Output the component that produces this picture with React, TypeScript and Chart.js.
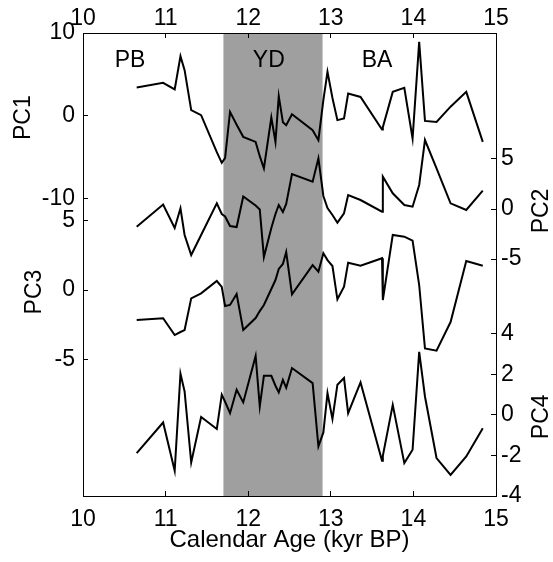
import React, { useEffect, useRef } from "react";
import { Chart, registerables } from "chart.js";

Chart.register(...registerables);

// ---- data ----
const ages = [
  10.65, 10.97, 11.11, 11.18, 11.23, 11.31, 11.43, 11.62, 11.68, 11.72,
  11.78, 11.86, 11.94, 12.09, 12.14, 12.19, 12.28, 12.33, 12.37, 12.42,
  12.46, 12.53, 12.78, 12.85, 12.91, 12.96, 13.02, 13.08, 13.16, 13.21,
  13.36, 13.62, 13.63, 13.75, 13.89, 13.99, 14.07, 14.14, 14.28, 14.45,
  14.64, 14.84,
];
const pc1 = [
  3.41, 3.97, 3.17, 7.19, 5.5, 0.67, 0.06, -4.41, -5.7, -5.14,
  0.46, -1.09, -2.56, -3.17, -4.9, -6.38, -0.22, -3.17, 2.36, -0.79,
  -1.15, 0.18, -1.75, -2.96, 1.87, 5.3, 2.14, -0.54, -0.34, 2.68,
  2.27, -1.67, -1.39, 2.88, 3.36, -2.76, 8.92, -0.63, -0.75, 1.09,
  2.88, -3.17,
];
const pc2 = [
  -1.77, 0.45, -1.9, 0.07, -2.6, -4.6, -2.6, 0.57, -0.5, -0.75,
  -1.7, -1.8, 1.25, 0.35, -0.05, -4.8, -1.9, -0.5, 0.4, -0.3,
  0.5, 3.5, 2.73, 5.07, 1.3, 0.1, -0.6, -1.37, -0.43, 1.4,
  0.9, -0.27, 3.23, 1.57, 0.4, 0.23, 2.4, 6.9, 4.07, 0.57,
  -0.1, 1.83,
];
const pc3 = [
  -2.16, -2.04, -3.25, -3.03, -2.89, -0.6, -0.24, 0.65, 0.22, -1.15,
  -1.08, -0.29, -2.89, -2.02, -1.52, -1.08, 0.07, 0.72, 1.52, 1.88,
  2.74, -0.31, 1.8, 1.32, 2.65, 2.16, 1.73, -0.67, 0.24, 1.97,
  1.75, 2.29, -0.72, 3.97, 3.85, 3.56, 0.36, -4.21, -4.38, -2.31,
  2.09, 1.75,
];
const pc4 = [
  -1.89, -0.38, -2.76, 2.02, 1.15, -2.35, -0.11, -0.7, 0.99, 0.64,
  0.08, 1.23, 0.61, 2.9, 0.41, 1.92, 1.92, 1.43, 1.1, 1.72,
  1.33, 2.3, 1.56, -1.56, -0.87, 1.07, -0.21, 1.48, 1.81, 0.08,
  1.59, -2.27, -2.02, 0.49, -2.38, -1.72, 3.1, 0.9, -2.13, -2.96,
  -2.05, -0.66,
];

const xTicks = [10, 11, 12, 13, 14, 15];
const pc1Ticks = [10, 0, -10];
const pc2Ticks = [5, 0, -5];
const pc3Ticks = [5, 0, -5];
const pc4Ticks = [4, 2, 0, -2, -4];

const pc1Range = [-46, 10];
const pc2Range = [-28.7, 17.6];
const pc3Range = [-14.86, 18.54];
const pc4Range = [-4, 18.8];
const xRange = [10, 15];

const ydBand = [11.7, 12.9];
const periodLabels = ["PB", "YD", "BA"];
const periodAges = [10.57, 12.25, 13.56];

const xTitle = "Calendar Age (kyr BP)";

const FONT = "'Liberation Sans', Arial, Helvetica, sans-serif";

const yTitles = [
  { axis: "yPC1", text: "PC1", x: 24 },
  { axis: "yPC3", text: "PC3", x: 35 },
  { axis: "yPC2", text: "PC2", x: 542 },
  { axis: "yPC4", text: "PC4", x: 542 },
];
const yAxisIds = ["yPC1", "yPC2", "yPC3", "yPC4"];

// Overlaid y axes: stacked for placement, then stretched back to the full plot height.
const fullHeightPlugin = {
  id: "fullHeightY",
  afterLayout(chart: any) {
    const { chartArea } = chart;
    yAxisIds.forEach((id) => {
      const s = chart.scales[id];
      s.top = chartArea.top;
      s.bottom = chartArea.bottom;
      s.height = chartArea.bottom - chartArea.top;
      s.configure();
    });
  },
};

const bandPlugin = {
  id: "ydBand",
  beforeDraw(chart: any) {
    const { ctx, chartArea, scales } = chart;
    const x1 = scales.x.getPixelForValue(ydBand[0]);
    const x2 = scales.x.getPixelForValue(ydBand[1]);
    ctx.save();
    ctx.fillStyle = "#9f9f9f";
    ctx.fillRect(x1, chartArea.top, x2 - x1, chartArea.bottom - chartArea.top);
    ctx.restore();
  },
};

const textPlugin = {
  id: "textOverlay",
  afterDraw(chart: any) {
    const { ctx, chartArea, scales } = chart;
    ctx.save();
    ctx.fillStyle = "#000";
    ctx.font = `23px ${FONT}`;
    ctx.textAlign = "center";
    ctx.textBaseline = "middle";
    periodLabels.forEach((t, i) => {
      ctx.fillText(t, scales.x.getPixelForValue(periodAges[i]), chartArea.top + 28);
    });
    yTitles.forEach(({ axis, text, x }) => {
      const y = scales[axis].getPixelForValue(0) + 2;
      ctx.save();
      ctx.translate(x, y);
      ctx.rotate(-Math.PI / 2);
      ctx.fillText(text, 0, 0);
      ctx.restore();
    });
    ctx.restore();
  },
};

const tickFont = { family: FONT, size: 23 };

function yAxis(position: string, range: number[], tickVals: number[], width: number, padding: number) {
  return {
    type: "linear",
    position,
    stack: position,
    stackWeight: 1,
    min: range[0],
    max: range[1],
    afterFit: (s: any) => {
      s.width = width;
    },
    afterBuildTicks: (s: any) => {
      s.ticks = tickVals.map((v) => ({ value: v }));
    },
    grid: { drawOnChartArea: false, drawTicks: true, tickLength: -5, color: "#000", lineWidth: 1 },
    border: { display: true, color: "#000", width: 1 },
    ticks: { color: "#000", font: tickFont, padding, autoSkip: false },
  };
}

function xAxis(position: string, height: number, padding: number, title?: string) {
  return {
    type: "linear",
    position,
    min: xRange[0],
    max: xRange[1],
    afterFit: (s: any) => {
      s.height = height;
    },
    afterBuildTicks: (s: any) => {
      s.ticks = xTicks.map((v) => ({ value: v }));
    },
    grid: { drawOnChartArea: false, drawTicks: true, tickLength: -5, color: "#000", lineWidth: 1 },
    border: { display: true, color: "#000", width: 1 },
    ticks: { color: "#000", font: tickFont, padding, autoSkip: false, maxRotation: 0 },
    title: title
      ? {
          display: true,
          text: title,
          color: "#000",
          font: { family: FONT, size: 24 },
          padding: { top: 0, bottom: 7 },
        }
      : { display: false },
  };
}

function series(vals: number[], axis: string) {
  return {
    data: ages.map((a, i) => ({ x: a, y: vals[i] })),
    xAxisID: "x",
    yAxisID: axis,
    borderColor: "#000",
    borderWidth: 2,
    pointRadius: 0,
    tension: 0,
    fill: false,
  };
}

export default function App() {
  const ref = useRef<HTMLCanvasElement | null>(null);

  useEffect(() => {
    if (!ref.current) return;
    const chart = new Chart(ref.current, {
      type: "line",
      data: {
        datasets: [
          series(pc1, "yPC1"),
          series(pc2, "yPC2"),
          series(pc3, "yPC3"),
          series(pc4, "yPC4"),
        ],
      } as any,
      options: {
        animation: false,
        responsive: false,
        events: [],
        layout: { padding: 0 },
        plugins: { legend: { display: false }, tooltip: { enabled: false } },
        scales: {
          x: xAxis("bottom", 66, 15, xTitle),
          x2: xAxis("top", 33, 6),
          yPC1: yAxis("left", pc1Range, pc1Ticks, 83, 13),
          yPC3: yAxis("left", pc3Range, pc3Ticks, 83, 13),
          yPC2: yAxis("right", pc2Range, pc2Ticks, 57, 10),
          yPC4: yAxis("right", pc4Range, pc4Ticks, 57, 10),
        },
      } as any,
      plugins: [fullHeightPlugin, bandPlugin, textPlugin],
    });
    return () => chart.destroy();
  }, []);

  return (
    <div style={{ position: "fixed", left: 0, top: 0, width: 553, height: 562, background: "#fff" }}>
      <canvas ref={ref} width={553} height={562} style={{ display: "block" }} />
    </div>
  );
}
